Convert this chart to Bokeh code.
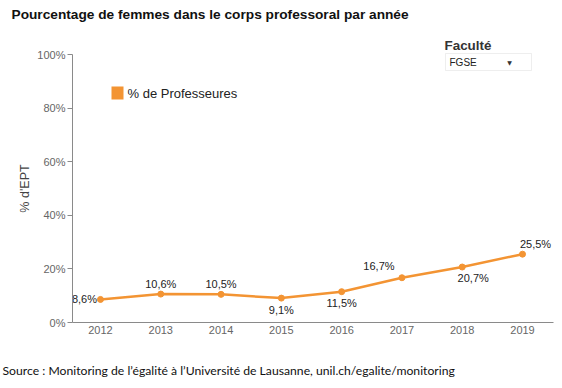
from bokeh.plotting import figure
from bokeh.models import (ColumnDataSource, Label, BoxAnnotation,
                          FixedTicker, PrintfTickFormatter, Range1d)
from bokeh.core.properties import value
from bokeh.embed import file_html
from bokeh.resources import INLINE

# ---- data ----
years = [2012, 2013, 2014, 2015, 2016, 2017, 2018, 2019]
pct_professeures = [8.6, 10.6, 10.5, 9.1, 11.5, 16.7, 20.7, 25.5]
point_labels = ["8,6%", "10,6%", "10,5%", "9,1%", "11,5%", "16,7%", "20,7%", "25,5%"]
y_ticks = [0, 20, 40, 60, 80, 100]

# ---- label placement (styling, px) ----
label_dx = [-16, 0, 0, 0, 0, -23, 11, 13]
label_dy = [0, -10, -10, 12, 11, -12, 11, -10]

ORANGE = "#F39433"
FONT = "Liberation Sans"
AXIS_GREY = "#8a8a8a"
TICK_GREY = "#666666"

W, H = 562, 388
# plot area in page pixels
AX_LEFT, AX_RIGHT, AX_TOP, AX_BOTTOM = 72, 553, 54, 322
X0, X1 = 2011.536, 2019.514     # axis extent in years
Y0, Y1 = 0, 100

# the frame covers the whole canvas; axes are pinned inside it
xs = (X1 - X0) / (AX_RIGHT - AX_LEFT)
ys = (Y1 - Y0) / (AX_BOTTOM - AX_TOP)
xr = Range1d(X0 - AX_LEFT * xs, X1 + (W - AX_RIGHT) * xs)
yr = Range1d(Y0 - (H - AX_BOTTOM) * ys, Y1 + AX_TOP * ys)

src = ColumnDataSource(dict(x=years, y=pct_professeures, lab=point_labels,
                            dx=label_dx, dy=label_dy))

p = figure(width=W, height=H, output_backend="svg", toolbar_location=None,
           x_range=xr, y_range=yr,
           min_border=0, min_border_left=0, min_border_right=0,
           min_border_top=0, min_border_bottom=0)
p.outline_line_color = None
p.background_fill_color = "white"
p.border_fill_color = "white"
p.xgrid.visible = False
p.ygrid.visible = False

# axes
p.xaxis.fixed_location = Y0
p.xaxis.bounds = (X0, X1)
p.xaxis.ticker = FixedTicker(ticks=years)
p.xaxis.major_tick_out = 0
p.xaxis.major_tick_in = 0
p.xaxis.minor_tick_out = 0
p.xaxis.minor_tick_in = 0
p.xaxis.major_label_standoff = 3
p.yaxis.fixed_location = X0
p.yaxis.bounds = (Y0, Y1)
p.yaxis.ticker = FixedTicker(ticks=y_ticks)
p.yaxis.formatter = PrintfTickFormatter(format="%d%%")
p.yaxis.major_tick_out = 5
p.yaxis.major_tick_in = 0
p.yaxis.minor_tick_out = 0
p.yaxis.minor_tick_in = 0
p.yaxis.major_label_standoff = 2
p.yaxis.axis_label = "% d'EPT"
p.yaxis.axis_label_standoff = 2
p.yaxis.axis_label_text_font_style = "normal"
p.yaxis.axis_label_text_font = FONT
p.yaxis.axis_label_text_font_size = "12.5px"
p.yaxis.axis_label_text_color = "#444444"
for ax in (p.xaxis, p.yaxis):
    ax.axis_line_color = AXIS_GREY
    ax.major_tick_line_color = AXIS_GREY
    ax.major_label_text_font = FONT
    ax.major_label_text_font_size = "11px"
    ax.major_label_text_color = TICK_GREY

# series
p.line("x", "y", source=src, line_color=ORANGE, line_width=2.5)
p.scatter("x", "y", source=src, size=6, fill_color=ORANGE, line_color=ORANGE)
p.text("x", "y", text="lab", source=src, x_offset="dx", y_offset="dy",
       text_align="center", text_baseline="middle", text_font=value(FONT),
       text_font_size="11px", text_color="#222222")

# helpers: page px -> screen coords of the (full-canvas) frame, y upwards
def fx(px):
    return px

def fy(py):
    return H - py

# legend
p.add_layout(BoxAnnotation(left=fx(111), right=fx(123), top=fy(86), bottom=fy(99),
                           left_units="screen", right_units="screen",
                           top_units="screen", bottom_units="screen",
                           fill_color=ORANGE, fill_alpha=1, line_color=None))
p.add_layout(Label(x=fx(127), y=fy(92.5), x_units="screen", y_units="screen",
                   text="% de Professeures", text_font=FONT, text_font_size="13px",
                   text_color="#222222", text_baseline="middle"))

p.add_layout(Label(x=fx(11), y=fy(14.2), x_units="screen", y_units="screen",
                   text="Pourcentage de femmes dans le corps professoral par année",
                   text_font=FONT, text_font_size="13.7px", text_font_style="bold",
                   text_color="#111111", text_baseline="middle"))
p.add_layout(Label(x=fx(444), y=fy(44.5), x_units="screen", y_units="screen",
                   text="Faculté", text_font=FONT, text_font_size="13.4px",
                   text_font_style="bold", text_color="#333333", text_baseline="middle"))
p.add_layout(BoxAnnotation(left=fx(445), right=fx(531), top=fy(53), bottom=fy(70),
                           left_units="screen", right_units="screen",
                           top_units="screen", bottom_units="screen",
                           fill_color="white", fill_alpha=1, line_color="#c8c8c8", line_width=1))
p.add_layout(Label(x=fx(449), y=fy(62), x_units="screen", y_units="screen",
                   text="FGSE", text_font=FONT, text_font_size="10px",
                   text_color="#222222", text_baseline="middle"))
p.add_layout(Label(x=fx(509), y=fy(62), x_units="screen", y_units="screen",
                   text="▼", text_font="DejaVu Sans", text_font_size="6px",
                   text_color="#333333", text_baseline="middle", text_align="center"))
p.add_layout(Label(x=fx(2), y=fy(370), x_units="screen", y_units="screen",
                   text="Source : Monitoring de l’égalité à l’Université de Lausanne, unil.ch/egalite/monitoring",
                   text_font="Lato", text_font_size="12.2px",
                   text_color="#111111", text_baseline="middle"))

open("out.html", "w").write(file_html(p, INLINE))
